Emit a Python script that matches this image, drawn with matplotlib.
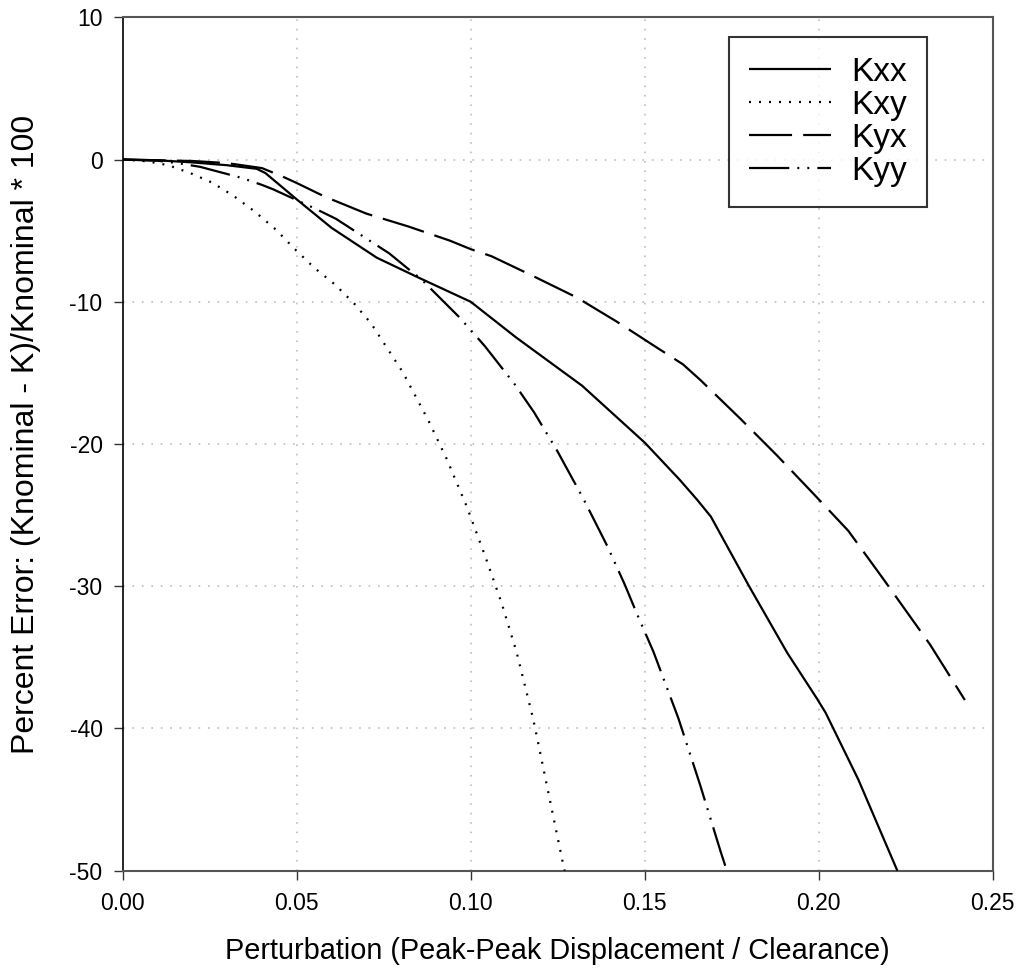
import matplotlib
matplotlib.use("Agg")
import matplotlib.pyplot as plt
import numpy as np

plt.rcParams['font.family'] = ['Liberation Sans', 'DejaVu Sans']
plt.rcParams['lines.scale_dashes'] = False

# ---- data ----
kxx_x = [0.0, 0.01, 0.02, 0.03, 0.0385, 0.041, 0.05, 0.06, 0.073, 0.085, 0.1, 0.113,
         0.132, 0.15, 0.16, 0.165, 0.169, 0.18, 0.191, 0.1995, 0.202, 0.2114, 0.2226]
kxx_y = [0.0, -0.05, -0.2, -0.4, -0.65, -0.95, -2.8, -4.8, -6.9, -8.3, -10.0, -12.5,
         -15.9, -19.9, -22.5, -23.9, -25.1, -30.0, -34.7, -37.9, -38.9, -43.6, -50.0]

kxy_x = [0.0, 0.0069, 0.0131, 0.0193, 0.0255, 0.0316, 0.0377, 0.0439, 0.0493, 0.055,
         0.0611, 0.0666, 0.0714, 0.0805, 0.0878, 0.0931, 0.0989, 0.1041, 0.1089, 0.1132,
         0.118, 0.122, 0.1266, 0.127]
kxy_y = [0.0, -0.12, -0.4, -0.94, -1.6, -2.51, -3.61, -4.9, -6.26, -7.6,
         -8.81, -10.15, -11.53, -14.96, -18.33, -21.05, -24.42, -27.85, -31.2, -34.65,
         -39.38, -44.14, -49.6, -50.0]

kyx_x = [0.0, 0.02, 0.03, 0.04, 0.046, 0.05, 0.058, 0.07, 0.082, 0.094, 0.1, 0.106,
         0.118, 0.1305, 0.142, 0.154, 0.161, 0.166, 0.1774, 0.188, 0.1985, 0.2085,
         0.2186, 0.232, 0.242]
kyx_y = [0.0, -0.1, -0.25, -0.6, -1.2, -1.65, -2.6, -3.8, -4.7, -5.7, -6.3, -6.8,
         -8.2, -9.7, -11.4, -13.3, -14.4, -15.5, -18.2, -20.8, -23.5, -26.1,
         -29.5, -34.1, -38.0]

kyy_x = [0.0, 0.01, 0.016, 0.0222, 0.0342, 0.0402, 0.0433, 0.0553, 0.0613, 0.0766,
         0.0825, 0.0854, 0.0969, 0.1041, 0.1127, 0.1182, 0.1249, 0.1324, 0.1393,
         0.1443, 0.1477, 0.1525, 0.1597, 0.1659, 0.1718, 0.1736]
kyy_y = [0.0, -0.08, -0.26, -0.51, -1.29, -1.8, -2.1, -3.45, -4.17, -6.6,
         -7.78, -8.32, -11.13, -13.13, -15.82, -17.77, -20.5, -23.86, -27.2,
         -29.9, -31.9, -34.6, -39.3, -43.95, -48.64, -50.0]

series_labels = ["Kxx", "Kxy", "Kyx", "Kyy"]
x_ticks = [0.0, 0.05, 0.10, 0.15, 0.20, 0.25]
y_ticks = [-50, -40, -30, -20, -10, 0, 10]

# ---- figure ----
fig = plt.figure(figsize=(10.22, 9.74), dpi=100)
ax = fig.add_axes([0.1201, 0.1061, 0.8512, 0.8761])

lw = 1.6
styles = [
    '-',
    (0, (1.4, 5.8)),
    (0, (31.0, 8.0)),
    (0, (29.0, 5.8, 1.4, 5.8, 1.4, 5.8)),
]
data = [(kxx_x, kxx_y), (kxy_x, kxy_y), (kyx_x, kyx_y), (kyy_x, kyy_y)]
for (xs, ys), ls, lab in zip(data, styles, series_labels):
    ax.plot(xs, ys, color='black', lw=lw, linestyle=ls, label=lab, zorder=3,
            dash_capstyle='butt', solid_capstyle='butt')

ax.set_xlim(0, 0.25)
ax.set_ylim(-50, 10)
ax.set_xticks(x_ticks)
ax.set_yticks(y_ticks)
ax.set_xticklabels([f"{v:.2f}" for v in x_ticks])
ax.set_yticklabels([str(v) for v in y_ticks])

# interior dotted grid
for xv in x_ticks[1:-1]:
    ax.axvline(xv, color='#bdbdbd', lw=1.2, linestyle=(0, (1.2, 5.6)), zorder=1)
for yv in y_ticks[1:-1]:
    ax.axhline(yv, color='#bdbdbd', lw=1.2, linestyle=(0, (1.2, 5.6)), zorder=1)

for s in ['top', 'right', 'bottom']:
    ax.spines[s].set_color('#555555')
    ax.spines[s].set_linewidth(1.5)
ax.spines['left'].set_color('black')
ax.spines['left'].set_linewidth(1.2)

ax.tick_params(axis='both', direction='out', length=6.5, width=1.0, color='#333333',
               labelsize=16.5, pad=8)
ax.tick_params(axis='x', pad=9)

ax.set_xlabel("Perturbation (Peak-Peak Displacement / Clearance)", fontsize=20.8, labelpad=16)
ax.set_ylabel("Percent Error: (Knominal - K)/Knominal * 100", fontsize=23, labelpad=20)
ax.yaxis.set_label_coords(-0.0945, 0.511)

leg = ax.legend(loc='upper right', bbox_to_anchor=(0.924, 0.9769), fontsize=24,
                frameon=True, fancybox=False, handlelength=2.45, handletextpad=0.6,
                labelspacing=0.06, borderpad=0.6, borderaxespad=0.0)
leg.get_frame().set_edgecolor('black')
leg.get_frame().set_linewidth(1.5)
for l in leg.get_lines():
    l.set_linewidth(1.6)

fig.savefig("out.png", dpi=100)
